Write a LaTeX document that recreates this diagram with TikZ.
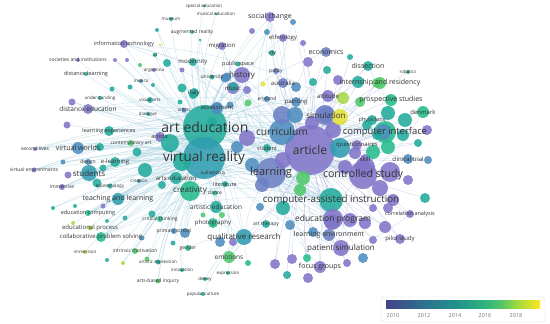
\documentclass[tikz,border=0pt]{standalone}
\usepackage{fontspec}
\setmainfont{Open Sans}
\pgfdeclarelayer{edges}
\pgfdeclarelayer{labels}
\pgfsetlayers{edges,main,labels}
\definecolor{cP}{HTML}{8175C8}
\definecolor{cPB}{HTML}{6C80C4}
\definecolor{cB}{HTML}{4E8DBF}
\definecolor{cTB}{HTML}{2F9DB0}
\definecolor{cT}{HTML}{22AB9C}
\definecolor{cTG}{HTML}{25BB8C}
\definecolor{cG}{HTML}{4FC86A}
\definecolor{cY}{HTML}{A8D845}
\definecolor{cYY}{HTML}{E2E23A}
\definecolor{edgeblue}{HTML}{9CCBDD}
\definecolor{edgepurple}{HTML}{B3B1DE}
\definecolor{labgray}{HTML}{333333}
\definecolor{v0}{HTML}{414487}
\definecolor{v1}{HTML}{2C728E}
\definecolor{v2}{HTML}{21918C}
\definecolor{v3}{HTML}{2FB47C}
\definecolor{v4}{HTML}{55C667}
\definecolor{v5}{HTML}{A0DA39}
\definecolor{v6}{HTML}{FDE725}
\pgfdeclarehorizontalshading{viridis}{100bp}{color(0bp)=(v0); color(25bp)=(v0);
  color(37.5bp)=(v1); color(47.5bp)=(v2); color(57.5bp)=(v3); color(62.5bp)=(v4);
  color(67.5bp)=(v5); color(75bp)=(v6); color(100bp)=(v6)}
\newcommand{\fs}[1]{\fontsize{#1}{#1}\selectfont}
\tikzset{
  bub/.style={circle, inner sep=0pt, draw=none, fill=#1, fill opacity=0.88},
  lab/.style={inner sep=0pt, text=labgray},
  edge/.style={draw=edgeblue, line width=0.4pt, opacity=0.5},
  edgep/.style={draw=edgepurple, line width=0.4pt, opacity=0.55},
  tick/.style={inner sep=0pt, text=black!55, font=\fs{5.5}}
}
% keywords: name/x/y/diameter/colour/font size/label
\def\kwlist{
artedu/205/127/44/cT/14/art education,
vr/204/158/42/cTB/13.5/virtual reality,
article/310/150/50/cP/12/article,
learning/271/173/30/cPB/11/learning,
curriculum/282/132/26/cB/10.3/curriculum,
controlled/363/175/28/cP/10.6/controlled study,
cai/331/200/24/cT/9.8/computer-assisted instruction,
compint/385/132/22/cTG/9.4/computer interface,
eduprog/333/219/20/cP/8.5/education program,
learnenv/329/235/12/cPB/7/learning environment,
patsim/341/248/16/cP/8/patient simulation,
focus/320/267/12/cP/7/focus groups,
qualres/244/237/16/cTB/8/qualitative research,
emotions/229/257/12/cG/6.5/emotions,
arttherapy/266/224/8/cT/5/art therapy,
photo/213/223/10/cTG/6/photography,
artisticedu/216/207/12/cT/6.5/artistic education,
gender/188/248/6/cTG/5/gender,
expression/228/273/4/cTG/4.5/expression,
dewey/205/279/4/cT/4.5/dewey,
popcult/203/294/4/cT/4.5/popular culture,
innovation/182/270/4/cT/4.5/innovation,
artsbased/158/281/5/cG/5/arts-based inquiry,
artexpr/158/262/5/cT/4.5/artistic expression,
intrinsic/135/251/6/cG/5/intrinsic motivation,
immersion/85/252/4/cY/4.5/immersion,
collab/101/237/10/cTG/6/collaborative problem solving,
eduproc/90/228/5/cY/6/educational process,
educomp/88/213/6/cTG/5.5/education computing,
critthink/160/219/6/cTG/5/critical thinking,
primary/174/231/6/cB/5/primary school,
teachlearn/118/199/12/cTB/7/teaching and learning,
immersive/62/187/6/cP/5/immersive,
epist/110/186/5/cT/4.5/epistemology,
creation/139/181/4/cTB/4.5/creation,
artsedu/176/178/12/cT/6/arts education,
creativity/190/191/20/cTG/8/creativity,
literature/225/184/6/cT/5.5/literature,
dance/215/193/5/cTG/5/dance,
students/89/173/16/cTB/8/students,
design/88/162/6/cB/5/design,
elearning/115/162/10/cT/6/e-learning,
virtenv/34/170/5/cP/5/virtual environments,
secondlife/35/149/4/cP/5/second lives,
virtworlds/78/148/12/cB/7/virtual worlds,
contemp/131/143/6/cG/5/contemporary art,
learnexp/109/131/10/cT/5.5/learning experiences,
artistic/160/137/10/cP/5.5/artistic,
distedu/88/109/10/cP/6.5/distance education,
understanding/100/98/4/cT/4.5/understanding,
visarts/150/100/6/cT/4.5/visual arts,
dialogue/148/114/4/cT/4.5/dialogue,
artists/184/110/5/cB/4.5/artists,
assessment/217/108/12/cB/6/assessment,
italy/194/93/10/cT/6/italy,
music/233/88/12/cP/6/music,
history/242/75/16/cP/8/history,
university/212/77/5/cT/5/university,
modernity/193/62/8/cT/6/modernity,
publicspace/238/64/5/cT/5.5/public space,
migration/222/46/8/cP/6/migration,
argentina/154/70/4/cP/4.5/argentina,
mexico/141/81/4/cB/4.5/mexico,
ict/155/55/4/cT/4.5/ict,
infotech/124/44/8/cP/5.5/information technology,
societies/78/60/4/cP/5/societies and institutions,
distlearn/86/74/4/cT/5.5/distance learning,
museum/171/19/4/cT/4.5/museum,
augreal/192/32/4/cG/5/augmented reality,
specialedu/204/6/3/cT/4.5/special education,
musicaledu/216/14/3/cT/4.5/musical education,
socialchange/270/17/10/cP/7/social change,
ethnology/283/38/8/cP/6/ethnology,
city/272/53/6/cT/5/city,
economics/326/52/10/cPB/7/economics,
policy/276/71/6/cPB/5/policy,
australia/283/83/10/cPB/6/australia,
england/267/99/6/cB/5/england,
painting/296/102/10/cB/6/painting,
attitude/328/96/12/cP/6/attitude,
dissection/368/66/10/cT/7/dissection,
internship/380/83/12/cG/7/internship and residency,
robotics/408/72/4/cT/4.5/robotics,
prospective/391/100/12/cTG/7/prospective studies,
denmark/423/112/12/cTG/6/denmark,
simulation/326/115/16/cPB/8/simulation,
physicians/372/120/10/cT/5.5/physicians,
questionnaires/357/145/10/cP/6/questionnaires,
student/267/148/8/cT/5.5/student,
skill/365/159/10/cP/6/skill,
clinical/408/159/10/cB/6/clinical trial,
correl/410/214/8/cP/5.5/correlation analysis,
pilot/400/239/10/cP/6/pilot study,
authenticity/213/173/5/cB/4.5/authenticity}
\begin{document}
\begin{tikzpicture}[x=1pt, y=-1pt]
\useasboundingbox (0,0) rectangle (550,324);
% keyword bubbles
\foreach \kn/\kx/\ky/\kd/\kc/\ks/\kt in \kwlist
  \node[bub=\kc, minimum size=\kd pt] (\kn) at (\kx,\ky) {};
% unlabelled keywords, left part
\foreach \kx/\ky/\kd/\kc [count=\i] in {167/63/8/cT, 182/70/5/cP, 227/77/9/cB,
  233/87/9/cT, 247/90/8/cP, 248/103/7/cG, 180/102/5/cT, 217/107/9/cB, 230/105/7/cB,
  157/30/4/cT, 182/88/9/cT, 112/89/5/cT, 130/87/5/cT, 115/60/4/cP, 127/60/4/cP,
  72/102/7/cP, 140/65/4/cG, 153/85/4/cT, 67/125/7/cP, 68/175/7/cP, 63/162/5/cB,
  100/147/8/cT, 137/152/9/cT, 145/170/14/cT, 170/143/18/cT, 182/162/18/cT,
  97/183/9/cT, 103/168/7/cT, 162/185/8/cT, 53/208/4/cT, 75/206/4/cT, 103/206/5/cP,
  125/218/5/cT, 152/214/7/cT, 73/223/4/cY, 107/221/4/cT, 142/238/5/cB, 123/263/4/cY,
  107/260/4/cT, 147/259/5/cG, 173/243/5/cT, 185/233/10/cB, 220/242/10/cB,
  233/242/8/cP, 248/263/6/cTG, 222/215/6/cG, 203/215/5/cG, 193/95/8/cT,
  263/84/5/cYY, 225/78/9/cB, 212/122/10/cT, 237/147/12/cB, 252/31/6/cP,
  267/32/6/cB, 160/45/3/cYY, 200/40/3/cT}
  \node[bub=\kc, minimum size=\kd pt] (dl\i) at (\kx,\ky) {};
% unlabelled keywords, right part
\foreach \kx/\ky/\kd/\kc [count=\i] in {282/115/18/cPB, 295/115/16/cB,
  325/115/20/cPB, 312/123/14/cP, 333/130/16/cP, 340/148/20/cTB, 355/153/12/cP,
  247/138/16/cP, 283/160/16/cP, 303/178/14/cG, 345/167/14/cP, 262/185/14/cPB,
  252/165/14/cB, 388/113/14/cT, 405/120/14/cT, 427/130/10/cP, 383/132/16/cB,
  403/135/12/cT, 418/143/8/cT, 373/152/14/cTG, 388/147/14/cTG, 365/167/20/cP,
  390/172/20/cP, 408/180/10/cP, 428/160/8/cB, 425/198/10/cT, 380/188/16/cP,
  393/200/12/cP, 283/208/14/cT, 260/207/8/cB, 290/225/10/cB, 332/222/16/cP,
  350/220/14/cP, 365/223/12/cP, 275/264/10/cP, 292/259/10/cP, 307/258/8/cTG,
  308/278/10/cP, 347/263/8/cP, 287/275/8/cT, 313/232/10/cB, 363/258/10/cB,
  373/208/8/cP, 388/208/10/cP, 385/227/12/cP, 373/240/8/cP, 293/22/6/cB,
  303/43/6/cP, 308/62/10/cP, 350/57/6/cT, 327/70/8/cT, 338/80/10/cP, 358/82/12/cT,
  343/98/12/cY, 313/82/8/cT, 296/87/10/cB, 340/117/16/cYY, 377/83/10/cG,
  360/102/10/cG, 367/125/10/cT, 377/135/10/cT, 300/190/12/cG}
  \node[bub=\kc, minimum size=\kd pt] (dr\i) at (\kx,\ky) {};
% links
\begin{pgfonlayer}{edges}
\fill[white] (0,0) rectangle (550,324);
\foreach \b in {vr, article, curriculum, learning, history, music, italy, modernity,
  assessment, migration, augreal, museum, infotech, distedu, learnexp, artistic,
  contemp, visarts, dialogue, artists, creativity, artsedu, teachlearn, students,
  elearning, virtworlds, secondlife, societies, distlearn, argentina, mexico, ict,
  qualres, artisticedu, photo, emotions, critthink, collab, educomp, socialchange,
  economics, painting, attitude, simulation, cai, controlled, eduprog, musicaledu,
  specialedu, university, publicspace, understanding, ethnology}
  \draw[edge] (artedu) to[bend left=10] (\b);
\foreach \b in {article, learning, curriculum, students, virtworlds, virtenv,
  secondlife, immersive, design, elearning, teachlearn, creation, epist, collab,
  eduproc, educomp, immersion, intrinsic, critthink, primary, gender, cai, compint,
  controlled, simulation, patsim, qualres, eduprog, learnenv, dissection, history,
  authenticity, innovation, artexpr, artsbased, distedu}
  \draw[edge] (vr) to[bend right=10] (\b);
\foreach \b in {learning, curriculum, controlled, cai, compint, eduprog, learnenv,
  patsim, focus, pilot, correl, clinical, skill, questionnaires, physicians,
  simulation, dissection, internship, prospective, denmark, robotics, attitude,
  economics, socialchange, ethnology, student, qualres, emotions, city, policy,
  australia, england, painting}
  \draw[edgep] (article) to[bend left=8] (\b);
\foreach \a/\b in {learning/cai, learning/eduprog, learning/qualres,
  learning/creativity, learning/focus, learning/patsim, controlled/pilot,
  controlled/correl, controlled/clinical, controlled/denmark, controlled/skill,
  controlled/eduprog, controlled/patsim, controlled/prospective, qualres/emotions,
  qualres/arttherapy, qualres/photo, qualres/expression, qualres/dewey,
  qualres/popcult, qualres/gender, creativity/artsbased, creativity/artexpr,
  creativity/innovation, creativity/intrinsic, creativity/primary,
  creativity/dance, creativity/literature, curriculum/history,
  curriculum/socialchange, compint/dissection, compint/internship, cai/focus,
  eduprog/pilot, patsim/correl}
  \draw[edge] (\a) to[bend right=12] (\b);
% long links across the map
\foreach \a in {virtworlds, students, teachlearn, distedu, infotech, secondlife,
  virtenv, elearning, learnexp, collab, educomp, immersive}
  \foreach \b in {article, cai, controlled, compint}
    \draw[edge] (\a) to[bend left=14] (\b);
\foreach \a in {history, migration, modernity, socialchange, music}
  \foreach \b in {learning, curriculum, eduprog}
    \draw[edge] (\a) to[bend right=14] (\b);
\foreach \i in {1,...,56}
  \draw[edge] (artedu) to[bend left=6] (dl\i);
\foreach \i in {2,4,...,56}
  \draw[edge] (vr) to[bend right=6] (dl\i);
\foreach \i in {1,...,62}
  \draw[edgep] (article) to[bend right=6] (dr\i);
\foreach \i in {1,3,...,61}
  \draw[edge] (learning) to[bend left=8] (dr\i);
\end{pgfonlayer}
% labels on top
\begin{pgfonlayer}{labels}
\foreach \kn/\kx/\ky/\kd/\kc/\ks/\kt in \kwlist
  \node[lab, font=\fs{\ks}] at (\kn) {\kt};
% legend
\node[draw=black!15, fill=white, rounded corners=3pt, minimum width=164pt,
  minimum height=25pt, inner sep=0pt] (legend) at (463,309.5) {};
\shade[shading=viridis] (386,300) rectangle (540,308);
\node[tick] (y2010) at (393,316) {2010};
\node[tick] (y2012) at (424,316) {2012};
\node[tick] (y2014) at (455,316) {2014};
\node[tick] (y2016) at (485,316) {2016};
\node[tick] (y2018) at (516,316) {2018};
\end{pgfonlayer}
\end{tikzpicture}
\end{document}
